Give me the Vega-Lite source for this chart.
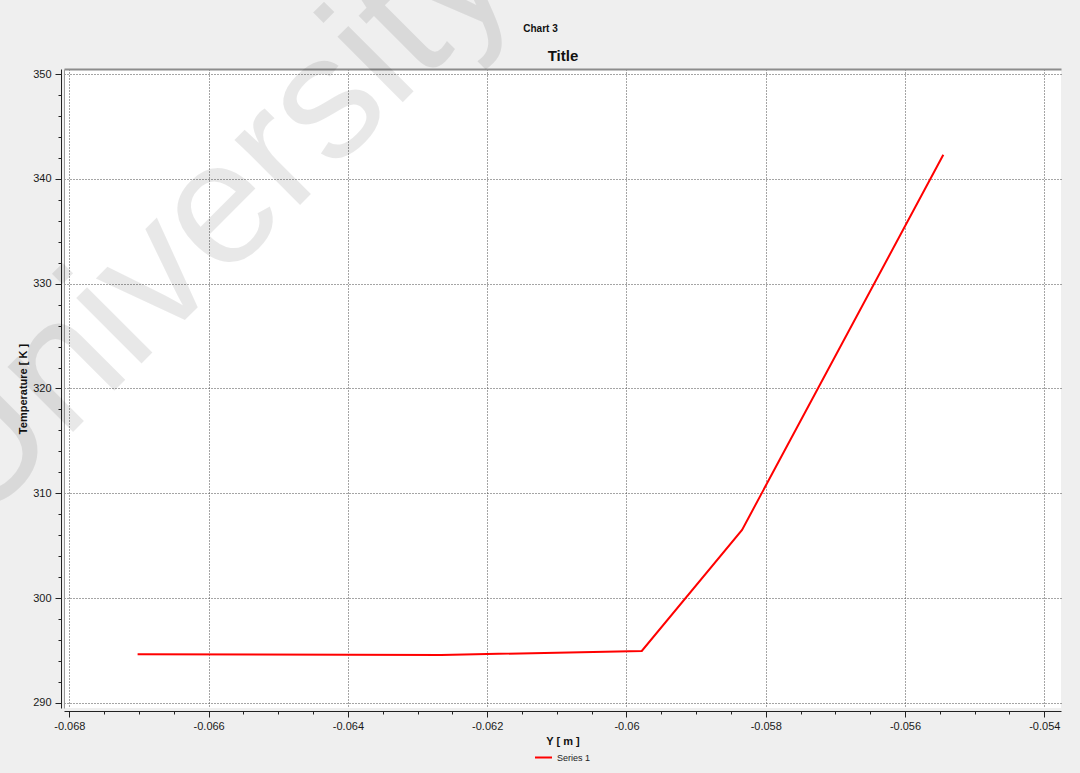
{
  "$schema": "https://vega.github.io/schema/vega-lite/v6.json",
  "autosize": "none",
  "width": 997,
  "height": 639,
  "padding": {"left": 64, "top": 69, "right": 19, "bottom": 65},
  "background": "#efefef",
  "config": {
    "view": {"fill": "white", "stroke": null},
    "font": "Liberation Sans",
    "axis": {
      "labelFont": "Liberation Sans",
      "labelFontSize": 11,
      "labelColor": "#1a1a1a",
      "titleFont": "Liberation Sans",
      "titleFontSize": 11,
      "titleFontWeight": "bold",
      "titleColor": "#111111",
      "domainColor": "#222222",
      "tickColor": "#222222",
      "gridColor": "#4a4a4a",
      "gridDash": [1, 2],
      "labelOverlap": false,
      "labelFlush": false
    }
  },
  "data": {
    "values": [
      {"y_m": -0.06702, "temperature": 294.65, "series": "Series 1"},
      {"y_m": -0.06266, "temperature": 294.58, "series": "Series 1"},
      {"y_m": -0.05978, "temperature": 294.96, "series": "Series 1"},
      {"y_m": -0.05834, "temperature": 306.51, "series": "Series 1"},
      {"y_m": -0.05545, "temperature": 342.29, "series": "Series 1"}
    ]
  },
  "layer": [
    {
      "mark": {"type": "line", "strokeWidth": 2},
      "encoding": {
        "x": {
          "field": "y_m",
          "type": "quantitative",
          "scale": {"domain": [-0.068077, -0.05376], "nice": false, "zero": false},
          "axis": {
            "orient": "bottom",
            "offset": 3,
            "title": "Y [ m ]",
            "titlePadding": 4,
            "labelPadding": 3,
            "values": [-0.068, -0.0675, -0.067, -0.0665, -0.066, -0.0655, -0.065, -0.0645, -0.064, -0.0635, -0.063, -0.0625, -0.062, -0.0615, -0.061, -0.0605, -0.06, -0.0595, -0.059, -0.0585, -0.058, -0.0575, -0.057, -0.0565, -0.056, -0.0555, -0.055, -0.0545, -0.054],
            "labelExpr": "abs(round(datum.value * 10000)) % 20 === 0 ? '' + datum.value : ''",
            "tickSize": {"condition": {"test": "abs(round(datum.value * 10000)) % 20 === 0", "value": 6}, "value": 3},
            "grid": true,
            "gridOpacity": {"condition": {"test": "abs(round(datum.value * 10000)) % 20 === 0", "value": 1}, "value": 0}
          }
        },
        "y": {
          "field": "temperature",
          "type": "quantitative",
          "scale": {"domain": [289.52, 350.477], "nice": false, "zero": false},
          "axis": {
            "orient": "left",
            "offset": 3,
            "title": "Temperature [ K ]",
            "titlePadding": 4,
            "labelPadding": 4,
            "values": [290, 292, 294, 296, 298, 300, 302, 304, 306, 308, 310, 312, 314, 316, 318, 320, 322, 324, 326, 328, 330, 332, 334, 336, 338, 340, 342, 344, 346, 348, 350],
            "labelExpr": "datum.value % 10 === 0 ? '' + datum.value : ''",
            "tickSize": {"condition": {"test": "datum.value % 10 === 0", "value": 6}, "value": 3},
            "grid": true,
            "gridOpacity": {"condition": {"test": "datum.value % 10 === 0", "value": 1}, "value": 0}
          }
        },
        "color": {
          "field": "series",
          "type": "nominal",
          "scale": {"range": ["#ff0000"]},
          "legend": {
            "title": null,
            "orient": "none",
            "legendX": 470,
            "legendY": 679,
            "direction": "horizontal",
            "padding": 0,
            "symbolType": "stroke",
            "symbolSize": 289,
            "symbolStrokeWidth": 2,
            "labelFont": "Liberation Sans",
            "labelFontSize": 9,
            "labelColor": "#222222",
            "labelOffset": 4
          }
        }
      }
    },
    {
      "data": {"values": [{}]},
      "mark": {"type": "rule", "opacity": 0},
      "encoding": {
        "x": {
          "datum": -0.068,
          "type": "quantitative",
          "axis": {
            "orient": "top",
            "offset": 0,
            "domain": true,
            "domainColor": "#8c8c8c",
            "domainWidth": 2,
            "ticks": false,
            "labels": false,
            "grid": false,
            "title": "Title",
            "titleFontSize": 15,
            "titleFontWeight": "bold",
            "titlePadding": 6
          }
        },
        "y": {
          "datum": 290,
          "type": "quantitative",
          "axis": {
            "orient": "left",
            "offset": 0,
            "domain": true,
            "domainColor": "#9a9a9a",
            "domainWidth": 1,
            "ticks": false,
            "labels": false,
            "grid": false,
            "title": null
          }
        }
      }
    },
    {
      "data": {"values": [{}]},
      "mark": {"type": "rule", "opacity": 0},
      "encoding": {
        "x": {
          "datum": -0.068,
          "type": "quantitative",
          "axis": {
            "orient": "top",
            "offset": 0,
            "domain": false,
            "ticks": false,
            "labels": false,
            "grid": false,
            "title": "Chart 3",
            "titleFontSize": 10,
            "titleFontWeight": "bold",
            "titleX": 476,
            "titleY": -38,
            "titleAlign": "center",
            "titleBaseline": "alphabetic"
          }
        }
      }
    },
    {
      "data": {"values": [{}]},
      "mark": {
        "type": "text",
        "text": "University",
        "angle": -45,
        "fontSize": 175,
        "font": "Liberation Sans",
        "align": "left",
        "baseline": "alphabetic",
        "color": "#000000",
        "fillOpacity": 0.09
      },
      "encoding": {
        "x": {"datum": -0.069354, "type": "quantitative", "axis": null},
        "y": {"datum": 306.51, "type": "quantitative", "axis": null}
      }
    }
  ],
  "resolve": {"axis": {"x": "independent", "y": "independent"}}
}
